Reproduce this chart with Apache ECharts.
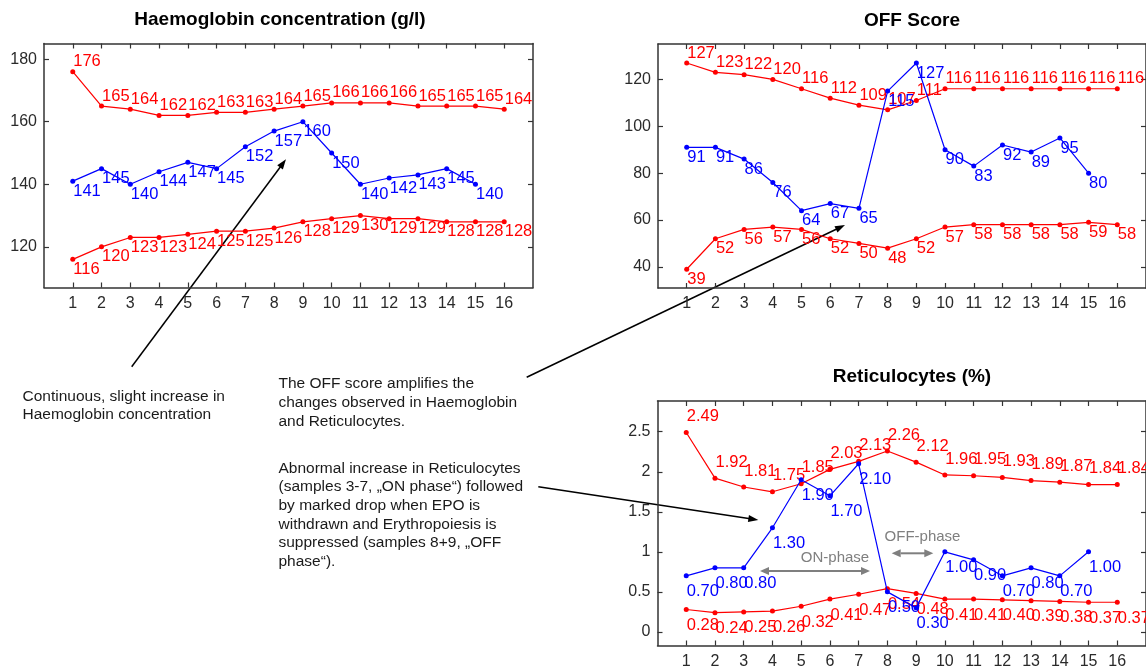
<!DOCTYPE html>
<html>
<head>
<meta charset="utf-8">
<script src="https://cdn.jsdelivr.net/npm/echarts@6/dist/echarts.min.js"></script>
<style>
html,body{margin:0;padding:0;background:#fff;}
#chart{width:1146px;height:671px;}
</style>
</head>
<body>
<div id="chart"></div>
<script>
// ---------- DATA ----------
const samples = [1,2,3,4,5,6,7,8,9,10,11,12,13,14,15,16];

const hbTicks = [120,140,160,180];
const hbUpper = [176,165,164,162,162,163,163,164,165,166,166,166,165,165,165,164];
const hbLower = [116,120,123,123,124,125,125,126,128,129,130,129,129,128,128,128];
const hbAthlete = [141,145,140,144,147,145,152,157,160,150,140,142,143,145,140];

const offTicks = [40,60,80,100,120];
const offUpper = [127,123,122,120,116,112,109,107,111,116,116,116,116,116,116,116];
const offLower = [39,52,56,57,56,52,50,48,52,57,58,58,58,58,59,58];
const offAthlete = [91,91,86,76,64,67,65,115,127,90,83,92,89,95,80];

const retTicks = [0,0.5,1,1.5,2,2.5];
const retUpper = [2.49,1.92,1.81,1.75,1.85,2.03,2.13,2.26,2.12,1.96,1.95,1.93,1.89,1.87,1.84,1.84];
const retLower = [0.28,0.24,0.25,0.26,0.32,0.41,0.47,0.54,0.48,0.41,0.41,0.40,0.39,0.38,0.37,0.37];
const retAthlete = [0.70,0.80,0.80,1.30,1.90,1.70,2.10,0.50,0.30,1.00,0.90,0.70,0.80,0.70,1.00];

const titles = ['Haemoglobin concentration (g/l)', 'OFF Score', 'Reticulocytes (%)'];
const noteHb = 'Continuous, slight increase in\nHaemoglobin concentration';
const noteOff = 'The OFF score amplifies the\nchanges observed in Haemoglobin\nand Reticulocytes.';
const noteRet = 'Abnormal increase in Reticulocytes\n(samples 3-7, \u201EON phase\u201C) followed\nby marked drop when EPO is\nwithdrawn and Erythropoiesis is\nsuppressed (samples 8+9, \u201EOFF\nphase\u201C).';
const phaseLabels = ['ON-phase', 'OFF-phase'];

// ---------- STYLE / LAYOUT ----------
const FONT = '"Liberation Sans", Arial, Helvetica, sans-serif';
const RED = '#ff0000', BLUE = '#0000ff', AXIS = '#333333', GRAY = '#7f7f7f';
const panels = [
  {left:44, top:43.5, width:489, height:244, ymin:107, ymax:185, ticks:hbTicks, off:10, dec:0,
   series:[[hbUpper,RED,-1],[hbLower,RED,1],[hbAthlete,BLUE,1]]},
  {left:658, top:44, width:489, height:244, ymin:31, ymax:135.1, ticks:offTicks, off:10, dec:0,
   series:[[offUpper,RED,-1],[offLower,RED,1],[offAthlete,BLUE,1]]},
  {left:657.5, top:401, width:489.5, height:244.5, ymin:-0.17, ymax:2.884, ticks:retTicks, off:16, dec:2,
   series:[[retUpper,RED,-1],[retLower,RED,1],[retAthlete,BLUE,1]]}
];

const grids = [], xAxes = [], yAxes = [], series = [];
const axLine = {show:true, onZero:false, lineStyle:{color:AXIS, width:1.5}};
panels.forEach((p, i) => {
  grids.push({left:p.left, top:p.top, width:p.width, height:p.height, containLabel:false});
  ['bottom','top'].forEach(pos => {
    xAxes.push({type:'value', gridIndex:i, min:0, max:17, position:pos,
      axisLine:axLine,
      axisTick:{show:true, inside:true, length:5, customValues:samples, lineStyle:{color:AXIS, width:1.2}},
      axisLabel:{show:pos==='bottom', customValues:samples, margin:8, fontSize:16, fontFamily:FONT, color:'#2a2a2a'},
      splitLine:{show:false}});
  });
  ['left','right'].forEach(pos => {
    yAxes.push({type:'value', gridIndex:i, min:p.ymin, max:p.ymax, position:pos,
      axisLine:axLine,
      axisTick:{show:true, inside:true, length:5, customValues:p.ticks, lineStyle:{color:AXIS, width:1.2}},
      axisLabel:{show:pos==='left', customValues:p.ticks, margin:7, fontSize:16, fontFamily:FONT, color:'#2a2a2a'},
      splitLine:{show:false}});
  });
  p.series.forEach(([vals, col, dir]) => {
    series.push({type:'line', xAxisIndex:2*i, yAxisIndex:2*i,
      data: vals.map((v,k) => [samples[k], v]),
      symbol:'circle', symbolSize:5, showSymbol:true,
      lineStyle:{color:col, width:1.2}, itemStyle:{color:col},
      label:{show:true, position:'right', distance:0, offset:[-2, dir*p.off],
        fontSize:16.5, fontFamily:FONT, color:col,
        formatter: q => q.value[1].toFixed(p.dec)},
      emphasis:{disabled:true}, silent:true, z:col===BLUE?3:2});
  });
});

// ---------- ANNOTATIONS ----------
function arrow(x1,y1,x2,y2,color,w,hl,hw,both){
  const els = [];
  const dx = x2-x1, dy = y2-y1, L = Math.hypot(dx,dy), ux = dx/L, uy = dy/L;
  const sx = both ? x1+ux*hl : x1, sy = both ? y1+uy*hl : y1;
  els.push({type:'line', shape:{x1:sx, y1:sy, x2:x2-ux*hl*0.8, y2:y2-uy*hl*0.8}, style:{stroke:color, lineWidth:w}});
  const head = (hx,hy,vx,vy) => ({type:'polygon', shape:{points:[[hx,hy],[hx-vx*hl-vy*hw/2, hy-vy*hl+vx*hw/2],[hx-vx*hl+vy*hw/2, hy-vy*hl-vx*hw/2]]}, style:{fill:color}});
  els.push(head(x2,y2,ux,uy));
  if (both) els.push(head(x1,y1,-ux,-uy));
  return els;
}
const txt = (s,x,y,o) => Object.assign({type:'text', x:x, y:y, style:Object.assign({text:s, fontFamily:FONT, fill:'#1a1a1a', fontSize:15.5, align:'left', verticalAlign:'top', lineHeight:18.7}, o||{})});

const graphic = [
  txt(titles[0], 280, 19.5, {fontSize:19, fontWeight:'bold', align:'center', verticalAlign:'middle', fill:'#000'}),
  txt(titles[1], 912, 20.5, {fontSize:19, fontWeight:'bold', align:'center', verticalAlign:'middle', fill:'#000'}),
  txt(titles[2], 912, 377, {fontSize:19, fontWeight:'bold', align:'center', verticalAlign:'middle', fill:'#000'}),
  txt(noteHb, 22.5, 387),
  txt(noteOff, 278.5, 374.7),
  txt(noteRet, 278.5, 459),
  txt(phaseLabels[0], 835, 558.3, {align:'center', verticalAlign:'middle', fill:GRAY, fontSize:15}),
  txt(phaseLabels[1], 922.5, 536.7, {align:'center', verticalAlign:'middle', fill:GRAY, fontSize:15}),
  ...arrow(131.7,366.7,286,159.3,'#000',1.5,10,7,false),
  ...arrow(526.7,377.3,845,225,'#000',1.5,10,7,false),
  ...arrow(538.3,486.7,758.3,520,'#000',1.5,10,7,false),
  ...arrow(760,571,870,571,GRAY,2,9,8,true),
  ...arrow(891.7,553.3,933.3,553.3,GRAY,2,9,8,true)
];

const chart = echarts.init(document.getElementById('chart'), null, {renderer:'canvas'});
chart.setOption({
  animation:false,
  backgroundColor:'#ffffff',
  grid:grids, xAxis:xAxes, yAxis:yAxes, series:series,
  graphic:{elements:graphic}
});
</script>
</body>
</html>
